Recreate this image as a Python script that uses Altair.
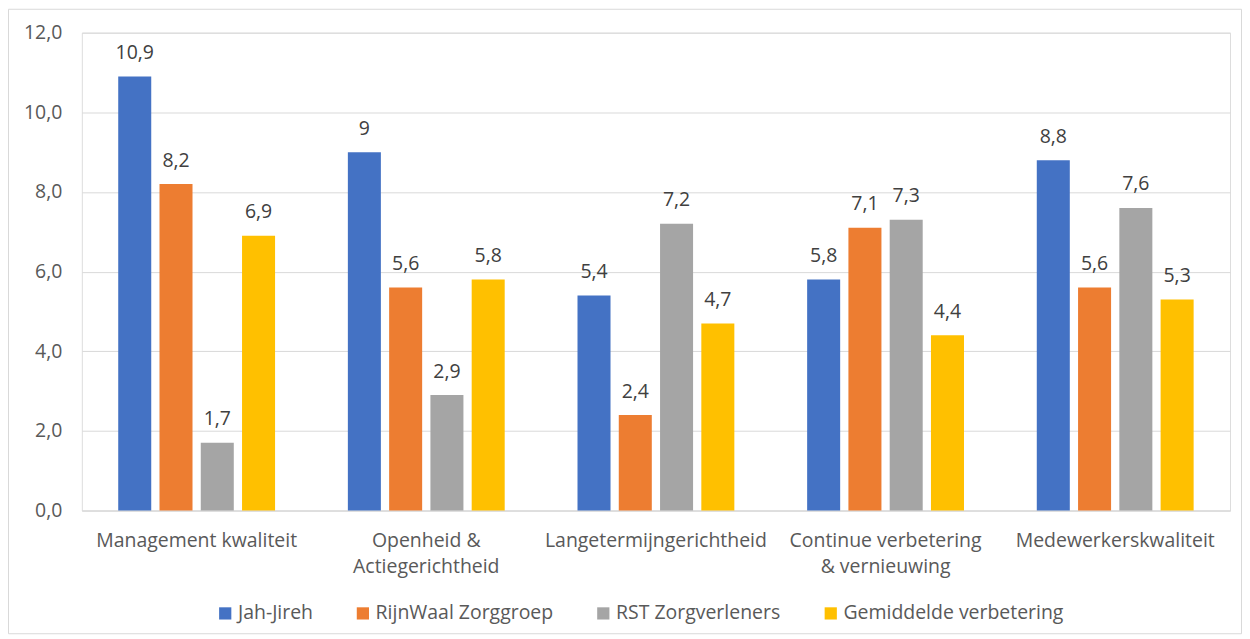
import altair as alt
import pandas as pd

categories = [
    "Management kwaliteit",
    "Openheid &\nActiegerichtheid",
    "Langetermijngerichtheid",
    "Continue verbetering\n& vernieuwing",
    "Medewerkerskwaliteit",
]
series = ["Jah-Jireh", "RijnWaal Zorggroep", "RST Zorgverleners", "Gemiddelde verbetering"]
jah_jireh = [10.9, 9, 5.4, 5.8, 8.8]
rijnwaal = [8.2, 5.6, 2.4, 7.1, 5.6]
rst = [1.7, 2.9, 7.2, 7.3, 7.6]
gemiddelde = [6.9, 5.8, 4.7, 4.4, 5.3]
colors = ["#4472C4", "#ED7D31", "#A5A5A5", "#FFC000"]

rows = []
for s, vals in zip(series, [jah_jireh, rijnwaal, rst, gemiddelde]):
    for c, v in zip(categories, vals):
        rows.append({"categorie": c, "reeks": s, "waarde": v,
                     "label": str(v).replace(".", ",")})
df = pd.DataFrame(rows)

FONT = "Open Sans"
FS = 19.5
W, H = 1151, 479

x_enc = alt.X("categorie:N", sort=categories, title=None,
              scale=alt.Scale(paddingInner=0.317, paddingOuter=0.1585),
              axis=alt.Axis(labelExpr="split(datum.label, '\\n')", labelAngle=0,
                            ticks=False, domainColor="#D9D9D9", labelPadding=21,
                            labelFontSize=FS, labelColor="#595959", labelFont=FONT,
                            labelLineHeight=26, labelLimit=0))
xo_enc = alt.XOffset("reeks:N", sort=series,
                     scale=alt.Scale(paddingInner=0.2, paddingOuter=0))

base = alt.Chart(df)

bars = base.mark_bar().encode(
    x=x_enc,
    xOffset=xo_enc,
    y=alt.Y("waarde:Q", title=None,
            scale=alt.Scale(domain=[0, 12]),
            axis=alt.Axis(values=[0, 2, 4, 6, 8, 10, 12], domain=False, ticks=False,
                          gridColor="#D9D9D9", labelPadding=20, labelFontSize=FS,
                          labelColor="#595959", labelFont=FONT, labelLimit=0,
                          labelExpr="replace(format(datum.value, '.1f'), '.', ',')")),
    color=alt.Color("reeks:N", sort=series,
                    scale=alt.Scale(domain=series, range=colors),
                    legend=alt.Legend(title=None, orient="none", direction="horizontal",
                                      legendX=134, legendY=572, symbolType="square",
                                      symbolSize=150, symbolStrokeWidth=0,
                                      labelFontSize=FS, labelColor="#595959",
                                      labelFont=FONT, columnPadding=40,
                                      labelOffset=3, labelLimit=0)),
)

texts = base.mark_text(baseline="alphabetic", dy=-17.5, fontSize=FS,
                       color="#404040", font=FONT).encode(
    x=alt.X("categorie:N", sort=categories),
    xOffset=xo_enc,
    y="waarde:Q",
    text="label:N",
)

border = alt.Chart(pd.DataFrame({"k": [0]})).mark_rect(
    fill=None, stroke="#D9D9D9", strokeWidth=1, clip=False
).encode(
    x=alt.value(-73.5), x2=alt.value(1162.5),
    y=alt.value(-23.5), y2=alt.value(602.5),
)

chart = alt.layer(bars, texts, border).properties(
    width=W, height=H,
    autosize=alt.AutoSizeParams(type="none"),
    padding={"left": 74, "top": 24, "right": 12, "bottom": 124},
).configure_view(stroke=None).configure(background="white")

chart.save("out.html", embed_options={"renderer": "svg", "actions": False})
